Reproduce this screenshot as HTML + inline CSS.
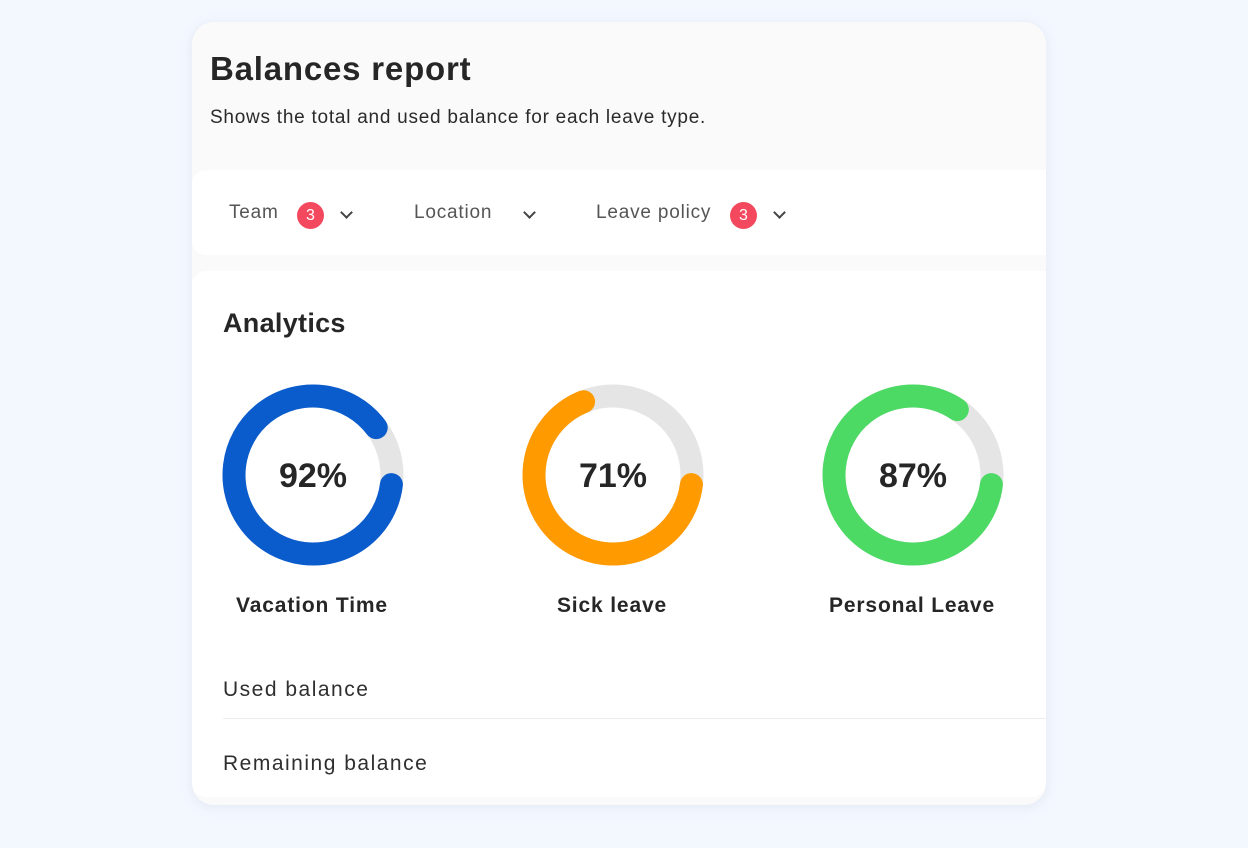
<!DOCTYPE html>
<html><head><meta charset="utf-8"><style>
*{margin:0;padding:0;box-sizing:border-box}
body{width:1248px;height:848px;background:#f3f7fe;font-family:"Liberation Sans",sans-serif;color:#2a2a2a;position:relative;overflow:hidden}
.card{position:absolute;left:192px;top:22px;width:854px;height:783px;background:#fafafa;border-radius:22px;overflow:hidden;box-shadow:0 2px 10px rgba(180,190,210,0.25)}
h1{position:absolute;left:18px;top:28px;font-size:33px;font-weight:bold;color:#262626;letter-spacing:0.8px}
.sub{position:absolute;left:18px;top:85px;font-size:19px;color:#2a2a2a;letter-spacing:0.75px}
.filters{position:absolute;left:0;top:148px;width:854px;height:85px;background:#fff;border-radius:14px 0 0 14px}
.f{position:absolute;top:32px;font-size:19px;color:#555;letter-spacing:0.8px}
.badge{position:absolute;top:32px;width:27px;height:27px;border-radius:50%;background:#f4485f;color:#fff;font-size:16px;text-align:center;line-height:27px}
.chev{position:absolute;top:38px;width:9px;height:9px;border-right:2px solid #444;border-bottom:2px solid #444;transform:rotate(45deg)}
.panel{position:absolute;left:0;top:249px;width:854px;height:526px;background:#fff;border-radius:14px 0 14px 14px}
h2{position:absolute;left:31px;top:37px;font-size:27px;font-weight:bold;color:#262626;letter-spacing:0.3px}
.lbl{position:absolute;top:323px;font-size:21px;font-weight:bold;color:#262626;text-align:center;width:220px;letter-spacing:0.85px}
.row{position:absolute;left:31px;font-size:21px;color:#2f2f2f;letter-spacing:1.5px}
.line{position:absolute;left:31px;top:447px;width:830px;height:1px;background:#ececec}
</style></head><body>
<div class="card">
<h1>Balances report</h1>
<div class="sub">Shows the total and used balance for each leave type.</div>
<div class="filters">
<div class="f" style="left:37px">Team</div><div class="badge" style="left:105px">3</div><div class="chev" style="left:150px"></div>
<div class="f" style="left:222px">Location</div><div class="chev" style="left:333px"></div>
<div class="f" style="left:404px">Leave policy</div><div class="badge" style="left:538px">3</div><div class="chev" style="left:583px"></div>
</div>
<div class="panel">
<h2>Analytics</h2>
<svg style="position:absolute;left:0;top:0" width="854" height="526">
<g fill="none" stroke-width="23">
<circle cx="121" cy="204" r="79" stroke="#e5e5e5"/>
<circle cx="121" cy="204" r="79" stroke="#0a5bcc" stroke-linecap="round" stroke-dasharray="435.7 600" transform="rotate(7 121 204)"/>
<circle cx="421" cy="204" r="79" stroke="#e5e5e5"/>
<circle cx="421" cy="204" r="79" stroke="#ff9a00" stroke-linecap="round" stroke-dasharray="332.3 600" transform="rotate(7 421 204)"/>
<circle cx="721" cy="204" r="79" stroke="#e5e5e5"/>
<circle cx="721" cy="204" r="79" stroke="#4cd964" stroke-linecap="round" stroke-dasharray="409.5 600" transform="rotate(7 721 204)"/>
</g>
<g font-family="Liberation Sans,sans-serif" font-weight="bold" font-size="34" fill="#262626" text-anchor="middle">
<text x="121" y="216">92%</text><text x="421" y="216">71%</text><text x="721" y="216">87%</text>
</g>
</svg>
<div class="lbl" style="left:10px">Vacation Time</div>
<div class="lbl" style="left:310px">Sick leave</div>
<div class="lbl" style="left:610px">Personal Leave</div>
<div class="row" style="top:407px">Used balance</div>
<div class="line"></div>
<div class="row" style="top:481px">Remaining balance</div>
</div>
</div>
</body></html>
